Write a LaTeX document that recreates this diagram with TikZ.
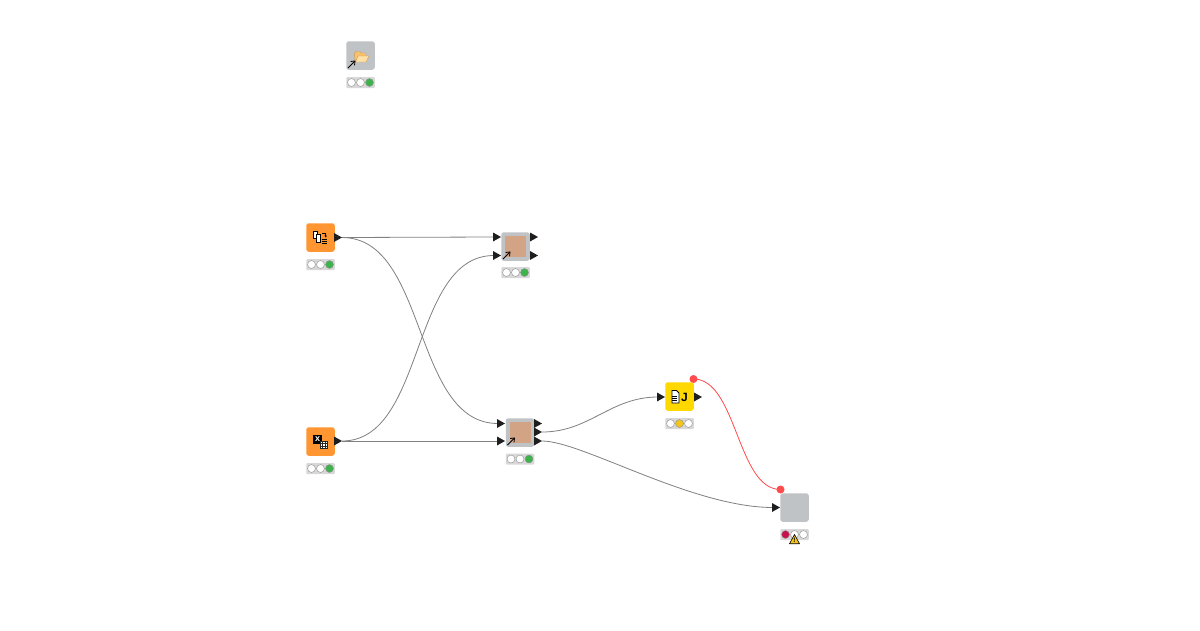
\documentclass[tikz,border=0pt]{standalone}
\usepackage{fontspec}
\setmainfont{Liberation Sans}
\usetikzlibrary{arrows.meta}
\definecolor{kgrey}{HTML}{C0C3C6}
\definecolor{korange}{HTML}{FF9632}
\definecolor{kmeta}{HTML}{D2A384}
\definecolor{kyellow}{HTML}{FFD800}
\definecolor{kgreen}{HTML}{3CB44B}
\definecolor{kamber}{HTML}{F5C518}
\definecolor{kred}{HTML}{C8104F}
\definecolor{kwire}{HTML}{808080}
\definecolor{kflow}{HTML}{FF4B4B}
\definecolor{kbar}{HTML}{D8D8D8}
\definecolor{kdark}{HTML}{1E1E1E}
\definecolor{kfolder}{HTML}{FFE0A8}
\definecolor{kfolderback}{HTML}{F8C070}
\definecolor{kfolderedge}{HTML}{D09A48}
\tikzset{
  x=1pt,y=-1pt,
  kbox/.style={minimum size=28.5pt,rounded corners=2.5pt,inner sep=0,outer sep=0,fill=#1},
  kbarstyle/.style={minimum width=28.5pt,minimum height=11pt,rounded corners=1pt,inner sep=0,fill=kbar},
  kinner/.style={minimum size=21pt,inner sep=0,fill=kmeta},
  klamp/.style={circle,draw=black!45,line width=.4pt,fill=#1,minimum size=7.9pt,inner sep=0},
  kwirestyle/.style={draw=kwire,line width=.8pt},
  kflowstyle/.style={draw=kflow,line width=.8pt},
  kdot/.style={circle,fill=kflow,minimum size=8pt,inner sep=0},
  klink/.style={-{Straight Barb[length=3.5pt,width=5.5pt]},line width=.8pt,black},
}
% name, x of left edge of triangle, y centre
\newcommand{\kport}[3]{\coordinate (#1) at (#2,#3);
  \fill[kdark] (#2,#3-4.5) -- (#2+8,#3) -- (#2,#3+4.5) -- cycle;}
% name, x centre, y of bar centre, colours of three lamps
\newcommand{\klights}[6]{%
  \node[kbarstyle] (#1) at (#2,#3) {};
  \node[klamp=#4] (#1a) at (#2-9,#3) {};
  \node[klamp=#5] (#1b) at (#2,#3) {};
  \node[klamp=#6] (#1c) at (#2+9,#3) {};}
\begin{document}
\begin{tikzpicture}
\useasboundingbox (0,0) rectangle (1200,630);
\fill[white] (0,0) rectangle (1200,630);

% wires
\coordinate (dotJ) at (693.5,379);
\coordinate (dotE) at (780.5,489.5);
\coordinate (csvT) at (342,237.5);
\coordinate (xlsT) at (342,441);
\coordinate (mAi) at (494,237);
\coordinate (mAj) at (494,255.5);
\coordinate (mBi) at (498,423.5);
\coordinate (mBj) at (498,441);
\coordinate (mBo) at (542,432);
\coordinate (mBp) at (542,441);
\coordinate (jIn) at (658,397);
\coordinate (eIn) at (773,507.5);

\draw[kwirestyle] (csvT) -- (mAi);
\draw[kwirestyle] (xlsT) -- (mBj);
\draw[kwirestyle] (csvT) .. controls (428,237.5) and (412,423.5) .. (mBi);
\draw[kwirestyle] (xlsT) .. controls (426,441) and (410,255.5) .. (mAj);
\draw[kwirestyle] (mBo) .. controls (590,432) and (610,397) .. (jIn);
\draw[kwirestyle] (mBp) .. controls (582,441) and (692,507.5) .. (eIn);
\draw[kflowstyle] (dotJ) .. controls (737,379) and (737,489.5) .. (dotE);

% folder node
\node[kbox=kgrey] (reader) at (360.5,55.5) {};
\fill[kfolderback,draw=kfolderedge,line width=.4pt]
  (355,62) -- (354.5,53) -- (356,51.5) -- (360,51.5) -- (361,53) -- (366,53) -- (366,57) -- cycle;
\fill[kfolder,draw=kfolderedge,line width=.4pt]
  (355.5,62) -- (358,56) -- (369,56) -- (366,62) -- cycle;
\draw[klink] (348,68) -- (355.5,60.5);
\klights{readerL}{360.5}{82.5}{white}{white}{kgreen}

% csv-like node
\node[kbox=korange] (csv) at (320.5,237.5) {};
\fill[white,draw=black,line width=.9pt] (313.7,231.3) rectangle (317.7,238.7);
\fill[white,draw=black,line width=.9pt] (316.2,234.2) rectangle (320.5,242);
\draw[black,line width=.7pt,-{Stealth[length=2pt,width=2.5pt]}] (322.3,233) -- (325.7,233) -- (325.7,237.5);
\draw[black,line width=.7pt] (321.7,238.9) -- (327.3,238.9) (321.7,240.9) -- (327.3,240.9) (321.7,242.9) -- (327.3,242.9);
\kport{csvP}{334}{237.5}
\klights{csvL}{320.5}{264.5}{white}{white}{kgreen}

% excel-like node
\node[kbox=korange] (xls) at (320.5,441.5) {};
\node[fill=black,minimum size=8.6pt,inner sep=0,text=white,font=\bfseries\fontsize{9}{9}\selectfont] (xlsIcon) at (317.7,439.2) {x};
\fill[white,draw=black!85,line width=.5pt] (320,441.5) rectangle (327.5,448);
\draw[black!85,line width=.5pt] (322.5,441.5) -- (322.5,448) (325,441.5) -- (325,448) (320,443.7) -- (327.5,443.7) (320,445.9) -- (327.5,445.9);
\kport{xlsP}{334}{441}
\klights{xlsL}{320.5}{468.5}{white}{white}{kgreen}

% upper component
\node[kbox=kgrey] (compA) at (515.5,246.5) {};
\node[kinner] (compAin) at (515.5,246.5) {};
\draw[klink] (503,259) -- (510.5,251.5);
\kport{compAp}{493}{237}
\kport{compAq}{493}{255.5}
\kport{compAr}{530}{237}
\kport{compAs}{530}{255.5}
\klights{compAL}{515.5}{272.5}{white}{white}{kgreen}

% lower component
\node[kbox=kgrey] (compB) at (520,432.5) {};
\node[kinner] (compBin) at (520,432.5) {};
\draw[klink] (507.5,445) -- (515,437.5);
\kport{compBp}{497}{423.5}
\kport{compBq}{497}{441}
\kport{compBr}{534}{423.5}
\kport{compBs}{534}{432}
\kport{compBt}{534}{441}
\klights{compBL}{520}{459}{white}{white}{kgreen}

% java node
\node[kbox=kyellow] (java) at (679.5,396.5) {};
\fill[white,draw=black,line width=.9pt] (672,390.5) -- (676.5,390.5) -- (679,393) -- (679,403) -- (672,403) -- cycle;
\draw[black,line width=.8pt] (672,396) -- (676.8,396) (672,398) -- (676.8,398) (672,400) -- (676.8,400);
\node[font=\bfseries\fontsize{12}{12}\selectfont,inner sep=0] (javaJ) at (684.4,397) {J};
\kport{javaP}{657}{397}
\kport{javaQ}{694}{397}
\klights{javaL}{679.5}{423.5}{white}{kamber}{white}
\node[kdot] (dotJn) at (dotJ) {};

% end node
\node[kbox=kgrey] (final) at (794.5,507.5) {};
\kport{finalP}{772}{507.5}
\klights{finalL}{794.5}{534.5}{kred}{white}{white}
\node[kdot] (dotEn) at (dotE) {};
\fill[kamber,draw=black,line width=.6pt,line join=round] (794.5,534.5) -- (799.5,543.7) -- (789.5,543.7) -- cycle;
\node[font=\bfseries\fontsize{6.5}{6.5}\selectfont,inner sep=0] (warn) at (794.5,540) {!};
\end{tikzpicture}
\end{document}
